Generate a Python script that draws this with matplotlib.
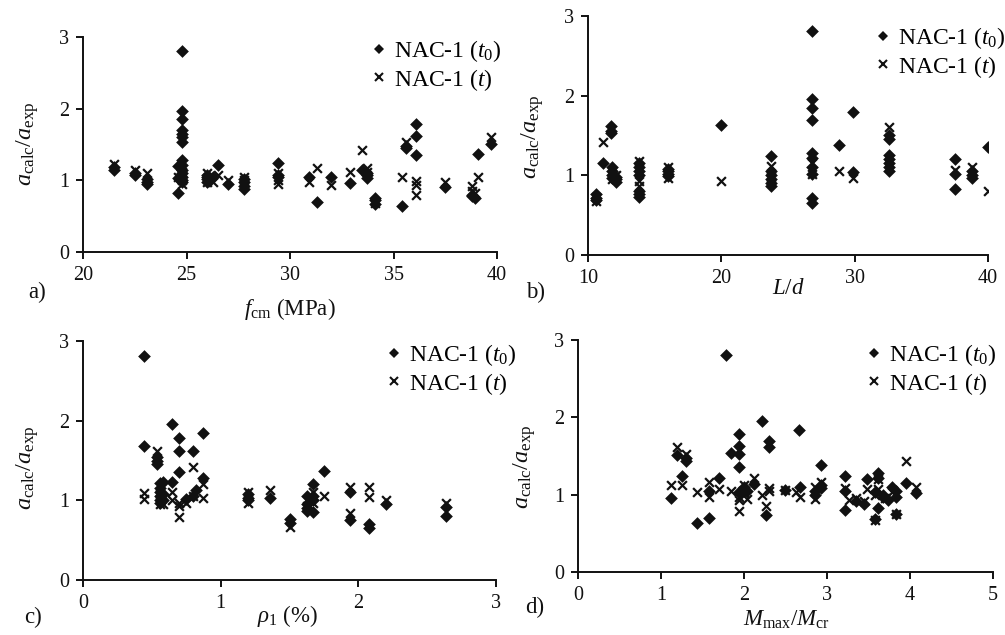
import matplotlib
matplotlib.use('Agg')
import matplotlib.pyplot as plt
from matplotlib.lines import Line2D

plt.rcParams['font.family'] = ['Liberation Serif', 'DejaVu Serif']
plt.rcParams['mathtext.fontset'] = 'custom'
plt.rcParams['mathtext.rm'] = 'Liberation Serif'
plt.rcParams['mathtext.it'] = 'Liberation Serif:italic'
plt.rcParams['mathtext.bf'] = 'Liberation Serif:bold'

# ---------------- data ----------------
# Panel a) f_cm (MPa)
a_t0_x = [21.5, 21.5, 22.5, 22.5, 23.1, 23.1, 23.1, 24.6, 24.6, 24.6,
          24.8, 24.8, 24.8, 24.8, 24.8, 24.8, 24.8, 24.8, 24.8, 24.8, 24.8, 24.8, 24.8, 24.8,
          26.0, 26.0, 26.0, 26.0, 26.3, 26.5, 27.0, 27.8, 27.8, 27.8, 27.8,
          29.4, 29.4, 29.4, 30.9, 31.3, 32.0, 32.9, 33.5, 33.7, 33.7, 33.7,
          34.1, 34.1, 34.1, 35.4, 35.6, 35.6, 36.1, 36.1, 36.1, 37.5,
          38.8, 38.8, 38.95, 39.1, 39.7]
a_t0_y = [1.14, 1.18, 1.07, 1.10, 0.95, 0.98, 1.02, 0.83, 1.20, 1.03,
          2.81, 1.97, 1.85, 1.70, 1.65, 1.60, 1.53, 1.28, 1.22, 1.15, 1.10, 1.05, 1.00, 0.97,
          1.02, 1.05, 1.08, 0.98, 1.05, 1.22, 0.95, 0.88, 0.92, 0.97, 1.02,
          1.24, 1.07, 1.05, 1.04, 0.70, 1.05, 0.96, 1.14, 1.10, 1.07, 1.03,
          0.76, 0.72, 0.67, 0.64, 1.45, 1.48, 1.79, 1.62, 1.36, 0.91,
          0.80, 0.78, 0.75, 1.37, 1.51]
a_t_x = [21.5, 22.5, 23.1, 24.6, 24.8, 24.8, 24.8, 24.8, 24.8,
         26.0, 26.0, 26.0, 26.3, 26.5, 27.0, 27.8, 27.8, 29.4, 29.4, 29.4,
         30.9, 31.3, 32.0, 32.9, 33.5, 33.7, 33.7, 34.1, 35.4, 35.6,
         36.1, 36.1, 36.1, 37.5, 38.8, 38.8, 38.95, 39.1, 39.7]
a_t_y = [1.23, 1.14, 1.10, 1.05, 1.12, 1.05, 1.00, 0.95, 1.08,
         1.10, 1.03, 0.97, 0.97, 1.07, 1.00, 1.05, 1.00, 1.10, 0.95, 1.00,
         0.97, 1.17, 0.94, 1.12, 1.42, 1.17, 1.12, 0.68, 1.04, 1.53,
         0.99, 0.93, 0.79, 0.97, 0.92, 0.85, 0.83, 1.05, 1.61]

# Panel b) L/d
b_t0_x = [10.6, 10.6, 10.6, 11.1, 11.7, 11.7, 11.7, 11.8, 11.8, 11.8, 11.8,
          12.1, 12.1, 12.1, 13.8, 13.8, 13.8, 13.8, 13.8, 13.8, 13.8,
          16.0, 16.0, 16.0, 16.0, 20.0, 23.7, 23.7, 23.7, 23.7, 23.7, 23.7,
          26.8, 26.8, 26.8, 26.8, 26.8, 26.8, 26.8, 26.8, 26.8, 26.8,
          28.8, 29.9, 29.9, 32.6, 32.6, 32.6, 32.6, 32.6, 32.6, 32.6,
          37.5, 37.5, 37.5, 38.8, 38.8, 38.8, 40.0]
b_t0_y = [0.77, 0.72, 0.69, 1.15, 1.62, 1.56, 1.53, 1.10, 1.05, 1.00, 0.97,
          0.92, 0.95, 0.98, 1.15, 1.10, 1.05, 1.00, 0.80, 0.76, 0.73,
          1.08, 1.05, 1.02, 0.99, 1.63, 1.24, 1.05, 1.00, 0.95, 0.90, 0.87,
          2.81, 1.96, 1.85, 1.69, 1.28, 1.22, 1.10, 1.02, 0.71, 0.65,
          1.38, 1.79, 1.04, 1.50, 1.45, 1.25, 1.20, 1.15, 1.10, 1.05,
          1.20, 1.02, 0.83, 1.05, 1.00, 0.97, 1.36]
b_t_x = [10.6, 10.6, 11.1, 11.8, 11.8, 12.1, 13.8, 13.8, 13.8, 16.0, 16.0,
         20.0, 23.7, 23.7, 26.8, 26.8, 28.8, 29.9, 32.6, 37.5, 38.8, 40.0]
b_t_y = [0.68, 0.73, 1.42, 1.05, 0.95, 1.00, 1.18, 0.93, 0.87, 1.10, 0.97,
         0.93, 1.12, 0.98, 1.15, 1.02, 1.05, 0.97, 1.61, 1.07, 1.10, 0.80]

# Panel c) rho_1 (%)
c_t0_x = [0.44, 0.44, 0.54, 0.54, 0.54, 0.56, 0.56, 0.56, 0.56, 0.56, 0.56,
          0.58, 0.58, 0.58, 0.65, 0.65, 0.70, 0.70, 0.70, 0.75, 0.80, 0.80,
          0.82, 0.87, 0.87, 1.20, 1.20, 1.20, 1.36, 1.50, 1.50,
          1.63, 1.63, 1.63, 1.63, 1.67, 1.67, 1.67, 1.67, 1.75,
          1.94, 1.94, 2.08, 2.08, 2.20, 2.64, 2.64]
c_t0_y = [2.81, 1.68, 1.55, 1.50, 1.45, 1.22, 1.15, 1.10, 1.05, 1.00, 0.97,
          1.23, 1.08, 1.00, 1.96, 1.23, 1.78, 1.62, 1.36, 1.02, 1.62, 1.05,
          1.13, 1.84, 1.28, 1.08, 1.03, 1.00, 1.03, 0.76, 0.71,
          1.05, 0.95, 0.90, 0.87, 1.20, 1.05, 1.00, 0.85, 1.37,
          1.10, 0.75, 0.70, 0.65, 0.95, 0.92, 0.80]
c_t_x = [0.44, 0.44, 0.54, 0.56, 0.56, 0.56, 0.58, 0.65, 0.65,
         0.70, 0.70, 0.70, 0.75, 0.80, 0.80, 0.87, 0.87, 1.20, 1.20,
         1.36, 1.50, 1.63, 1.63, 1.67, 1.67, 1.75, 1.94, 1.94,
         2.08, 2.08, 2.20, 2.64]
c_t_y = [1.09, 1.02, 1.62, 1.08, 1.02, 0.95, 0.96, 1.10, 1.00,
         0.93, 0.79, 0.97, 0.97, 1.42, 1.05, 1.21, 1.03, 1.10, 0.97,
         1.13, 0.67, 1.00, 0.93, 1.10, 0.97, 1.05, 1.17, 0.84,
         1.17, 1.04, 1.00, 0.97]

# Panel d) M_max/M_cr
d_t0_x = [1.12, 1.19, 1.25, 1.30, 1.30, 1.43, 1.58, 1.58, 1.70, 1.78, 1.84,
          1.94, 1.94, 1.94, 1.94, 1.94, 2.00, 2.00, 2.00, 2.04, 2.12, 2.22,
          2.26, 2.30, 2.30, 2.49, 2.66, 2.68, 2.85, 2.85, 2.93, 2.93, 2.93,
          3.22, 3.22, 3.22, 3.35, 3.45, 3.48, 3.58, 3.58, 3.62, 3.62, 3.62,
          3.68, 3.68, 3.73, 3.78, 3.83, 3.83, 3.83, 3.95, 4.07]
d_t0_y = [0.96, 1.51, 1.24, 1.44, 1.48, 0.64, 1.05, 0.70, 1.22, 2.81, 1.54,
          1.79, 1.63, 1.53, 1.36, 1.04, 1.05, 1.10, 1.07, 1.05, 1.14, 1.95,
          0.74, 1.69, 1.62, 1.06, 1.84, 1.10, 1.00, 1.05, 1.38, 1.12, 1.08,
          1.24, 1.05, 0.80, 0.92, 0.88, 1.20, 1.03, 0.69, 1.28, 1.22, 0.83,
          1.00, 0.97, 0.93, 1.10, 1.05, 0.75, 0.97, 1.15, 1.02]
d_t_x = [1.12, 1.19, 1.25, 1.30, 1.43, 1.58, 1.58, 1.70, 1.84,
         1.94, 1.94, 1.94, 2.00, 2.00, 2.04, 2.12, 2.22, 2.26, 2.30, 2.30,
         2.49, 2.63, 2.68, 2.85, 2.85, 2.93, 3.22, 3.27, 3.35, 3.45, 3.48,
         3.58, 3.58, 3.62, 3.62, 3.70, 3.78, 3.83, 3.95, 4.07]
d_t_y = [1.12, 1.61, 1.12, 1.53, 1.04, 1.17, 0.97, 1.07, 1.05,
         0.97, 0.93, 0.79, 1.13, 1.02, 0.95, 1.22, 1.00, 0.85, 1.09, 1.05,
         1.06, 1.03, 0.97, 0.95, 1.10, 1.17, 1.08, 0.93, 0.96, 0.92, 1.07,
         0.67, 1.00, 1.20, 1.07, 0.96, 1.03, 0.75, 1.43, 1.10]

legend_labels = ['NAC-1 ($t_0$)', 'NAC-1 ($t$)']
y_label = r'$a_{\rm calc}/a_{\rm exp}$'
y_ticks = [0, 1, 2, 3]

# ---------------- layout (pixels) ----------------
W, H = 1005, 635
fig = plt.figure(figsize=(W / 100, H / 100), dpi=100)

panels = [
    dict(box=(83, 497, 37, 252), xlim=(20, 40), xticks=[20, 25, 30, 35, 40],
         t0=(a_t0_x, a_t0_y), t=(a_t_x, a_t_y),
         xlabel=r'$f_{\rm cm}$ (MPa)', xlab_pos=(290, 309),
         tag='a)', tag_pos=(37, 292), ylab_pos=(28, 144), leg=(372, 38)),
    dict(box=(588, 988, 16, 255), xlim=(10, 40), xticks=[10, 20, 30, 40],
         t0=(b_t0_x, b_t0_y), t=(b_t_x, b_t_y),
         xlabel=r'$L/d$', xlab_pos=(788, 288),
         tag='b)', tag_pos=(536, 292), ylab_pos=(533, 137), leg=(876, 25)),
    dict(box=(83, 496, 341, 580), xlim=(0, 3), xticks=[0, 1, 2, 3],
         t0=(c_t0_x, c_t0_y), t=(c_t_x, c_t_y),
         xlabel=r'$\rho_1$ (%)', xlab_pos=(288, 616),
         tag='c)', tag_pos=(33, 617), ylab_pos=(28, 468), leg=(387, 342)),
    dict(box=(578, 993, 340, 572), xlim=(0, 5), xticks=[0, 1, 2, 3, 4, 5],
         t0=(d_t0_x, d_t0_y), t=(d_t_x, d_t_y),
         xlabel=r'$M_{\rm max}/M_{\rm cr}$', xlab_pos=(787, 620),
         tag='d)', tag_pos=(535, 607), ylab_pos=(525, 467), leg=(867, 342)),
]

ink = '#111111'
for p in panels:
    l, r, t, b = p['box']
    ax = fig.add_axes([l / W, 1 - b / H, (r - l) / W, (b - t) / H])
    ax.scatter(p['t0'][0], p['t0'][1], marker='D', s=42, color=ink,
               linewidths=0, zorder=3)
    ax.scatter(p['t'][0], p['t'][1], marker='x', s=40, color=ink,
               linewidths=1.6, zorder=4)
    ax.set_xlim(*p['xlim'])
    ax.set_ylim(0, 3)
    ax.set_xticks(p['xticks'])
    ax.set_yticks(y_ticks)
    for s in ('top', 'right'):
        ax.spines[s].set_visible(False)
    for s in ('left', 'bottom'):
        ax.spines[s].set_linewidth(1.4)
        ax.spines[s].set_color(ink)
    ax.tick_params(direction='out', length=5, width=1.4, color=ink,
                   labelsize=14.5, pad=5, labelcolor=ink)

    fig.text(p['xlab_pos'][0] / W, 1 - p['xlab_pos'][1] / H, p['xlabel'],
             ha='center', va='center', fontsize=16.5, color=ink)
    fig.text(p['ylab_pos'][0] / W, 1 - p['ylab_pos'][1] / H, y_label,
             ha='center', va='center', rotation=90, fontsize=17.5, color=ink)
    fig.text(p['tag_pos'][0] / W, 1 - p['tag_pos'][1] / H, p['tag'],
             ha='center', va='center', fontsize=16.5, color=ink)

    handles = [Line2D([], [], linestyle='none', marker='D', markersize=5.5,
                      color=ink, markeredgewidth=0),
               Line2D([], [], linestyle='none', marker='x', markersize=6,
                      color=ink, markeredgewidth=1.5)]
    ax.legend(handles, legend_labels, loc='upper left',
              bbox_to_anchor=(p['leg'][0] / W, 1 - p['leg'][1] / H),
              bbox_transform=fig.transFigure, frameon=False, fontsize=17,
              handlelength=0.6, handletextpad=0.35, borderpad=0,
              borderaxespad=0, labelspacing=0.12)

fig.savefig('out.png', dpi=100)
